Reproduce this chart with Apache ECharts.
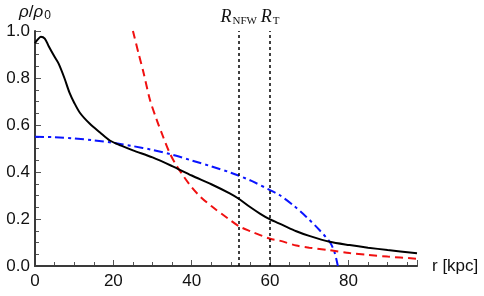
<!DOCTYPE html>
<html>
<head>
<meta charset="utf-8">
<script src="https://cdn.jsdelivr.net/npm/echarts@6/dist/echarts.min.js"></script>
<style>html,body{margin:0;padding:0;background:#fff;}#c{width:484px;height:296px;}</style>
</head>
<body>
<div id="c"></div>
<script>
// ---- data ----
const blackR = [0, 0.6, 1.5, 2.5, 3.5, 5, 6, 7.5, 8.8, 10, 11.5, 14, 16.6, 19.1, 22, 25, 30, 35, 40, 45, 49.7, 52, 54.8, 57.5, 60, 63, 66.7, 70, 75.2, 80.3, 85, 90, 97.5];
const blackY = [0.948, 0.962, 0.976, 0.968, 0.935, 0.89, 0.862, 0.8, 0.738, 0.695, 0.651, 0.605, 0.568, 0.534, 0.512, 0.492, 0.462, 0.425, 0.385, 0.348, 0.309, 0.286, 0.252, 0.222, 0.198, 0.176, 0.148, 0.128, 0.103, 0.089, 0.078, 0.068, 0.054];

const redR = [25, 26.5, 27.6, 29.3, 31, 32.7, 34.4, 36, 38, 40, 42, 45, 49.2, 52.2, 55, 60, 62.4, 66.7, 70, 75.2, 80.3, 85, 90, 97.5];
const redY = [1.0, 0.9, 0.83, 0.71, 0.625, 0.55, 0.48, 0.43, 0.38, 0.335, 0.298, 0.255, 0.203, 0.168, 0.148, 0.116, 0.108, 0.087, 0.078, 0.067, 0.055, 0.047, 0.04, 0.031];

const blueR = [0, 5, 10, 15, 20, 25, 30, 35, 40, 45, 50, 55, 60, 62.4, 65.8, 69.2, 72.6, 75.2, 76.4, 77.3];
const blueY = [0.55, 0.548, 0.543, 0.535, 0.524, 0.51, 0.494, 0.474, 0.449, 0.424, 0.397, 0.364, 0.323, 0.302, 0.26, 0.21, 0.153, 0.103, 0.061, 0.0];

const vLines = [52, 60];
const vLabels = ['{R|R}{s|NFW}', '{R|R}{s|T}'];

const yTicks = [0, 0.2, 0.4, 0.6, 0.8, 1.0];
const xTicks = [0, 20, 40, 60, 80];

function pairs(xs, ys) { return xs.map((x, i) => [x, ys[i]]); }

const chart = echarts.init(document.getElementById('c'));
const axisColor = '#3a3a3a';
const tickColor = '#555';
const font = 'Liberation Sans, Arial, sans-serif';
const serif = 'Liberation Serif, DejaVu Serif, serif';
const richLbl = {
  R: {fontFamily: serif, fontStyle: 'italic', fontSize: 18, color: '#111'},
  s: {fontFamily: serif, fontSize: 11, color: '#111', padding: [9, 0, 0, 1]}
};

const X_MIN = 0, X_MAX = 97.5, X_INT = 20;
const Y_MIN = 0, Y_MAX = 1.0, Y_INT = 0.2;

// line-only overlay axes: thick dark axis line drawn over the main axis line
function lineAxis(isX) {
  return {
    type: 'value', gridIndex: 0, position: isX ? 'bottom' : 'left', offset: 0, z: 2,
    min: isX ? X_MIN : Y_MIN, max: isX ? X_MAX : Y_MAX, interval: isX ? X_INT : Y_INT,
    axisLine: {show: true, onZero: false, lineStyle: {color: axisColor, width: 2}},
    axisTick: {show: false},
    minorTick: {show: false},
    axisLabel: {show: false},
    splitLine: {show: false}
  };
}

chart.setOption({
  animation: false,
  grid: {left: 35, right: 67, top: 31, bottom: 30},
  xAxis: [{
    type: 'value', min: X_MIN, max: X_MAX, interval: X_INT,
    name: 'r [kpc]', nameLocation: 'end', nameGap: 15,
    nameTextStyle: {fontFamily: font, fontSize: 17, color: '#111', verticalAlign: 'middle'},
    axisLine: {show: true},
    axisTick: {show: true, inside: true, length: 6, lineStyle: {color: tickColor, width: 1}},
    minorTick: {show: true, splitNumber: 4, length: 4, lineStyle: {color: tickColor, width: 1}},
    splitLine: {show: false},
    axisLabel: {fontSize: 17, fontFamily: font, color: '#111', margin: 7,
      formatter: v => (xTicks.indexOf(v) >= 0 ? String(v) : '')}
  }, lineAxis(true)],
  yAxis: [{
    type: 'value', min: Y_MIN, max: Y_MAX, interval: Y_INT,
    name: '{i|ρ}/{i|ρ}{z|0}', nameLocation: 'end', nameGap: 9,
    nameTextStyle: {align: 'center', fontFamily: font, fontSize: 17, color: '#111',
      rich: {
        i: {fontFamily: font, fontStyle: 'italic', fontSize: 17, color: '#111'},
        z: {fontFamily: font, fontSize: 12, color: '#111', padding: [8, 0, 0, 1]}
      }},
    axisLine: {show: true},
    axisTick: {show: true, inside: true, length: 6, lineStyle: {color: tickColor, width: 1}},
    minorTick: {show: true, splitNumber: 4, length: 4, lineStyle: {color: tickColor, width: 1}},
    splitLine: {show: false},
    axisLabel: {fontSize: 17, fontFamily: font, color: '#111', margin: 5,
      formatter: v => (yTicks.some(t => Math.abs(t - v) < 1e-9) ? v.toFixed(1) : '')}
  }, lineAxis(false)],
  series: [
    {
      type: 'line', data: pairs(blueR, blueY), showSymbol: false, smooth: 0.3,
      lineStyle: {color: '#0a14ff', width: 2, type: [9, 4, 3, 4]}, z: 2
    },
    {
      type: 'line', data: pairs(redR, redY), showSymbol: false, smooth: 0.3,
      lineStyle: {color: '#f01010', width: 2, type: [8, 5]}, z: 3
    },
    {
      type: 'line', data: pairs(blackR, blackY), showSymbol: false, smooth: 0.3,
      lineStyle: {color: '#000', width: 2}, z: 4,
      markLine: {
        silent: true, symbol: ['none', 'none'], animation: false,
        lineStyle: {color: '#000', width: 1.5, type: [3, 3]},
        label: {show: true, position: 'end', distance: 4, rich: richLbl},
        data: vLines.map((x, i) => ({xAxis: x, label: {formatter: vLabels[i]}}))
      }
    }
  ]
});
</script>
</body>
</html>
